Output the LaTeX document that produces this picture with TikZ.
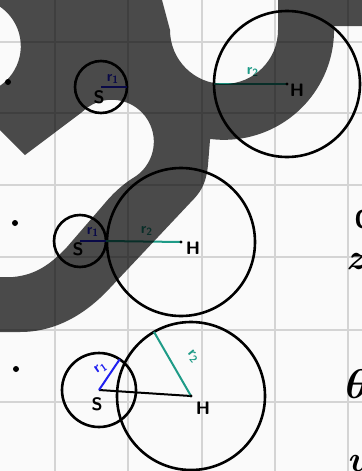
\documentclass[tikz,border=0pt]{standalone}
\usepackage{amsmath}
\usepackage{amsfonts}
\usepackage{tikz}
\usetikzlibrary{calc}
\usetikzlibrary{positioning}

\definecolor{rblue}{RGB}{32,32,240}
\definecolor{rteal}{RGB}{30,155,135}
\definecolor{gridgray}{RGB}{212,212,212}
\definecolor{paper}{RGB}{250,250,250}

\begin{document}
\begin{tikzpicture}[x=0.5pt, y=0.5pt, >=latex,
  gridline/.style={gridgray, line width=1pt},
  orbit/.style={black, line width=1.3pt},
  rone/.style={rblue, line width=1pt},
  rtwo/.style={rteal, line width=1pt},
  dot/.style={circle, fill=black, inner sep=0pt, minimum size=3pt},
  tinydot/.style={circle, fill=black, inner sep=0pt, minimum size=1.6pt},
  hand/.style={inner sep=0pt, font=\sffamily\bfseries\fontsize{9}{9}\selectfont},
  rlbl/.style={inner sep=0pt, font=\sffamily\bfseries\fontsize{7.5}{7.5}\selectfont},
  cutnote/.style={inner sep=0pt, anchor=west}]
  \path[use as bounding box] (0, 0) rectangle (362, -471);
  \clip (0, 0) rectangle (362, -471);
  \fill[paper] (0, 0) rectangle (362, -471);

%%%%%%%%%%%% Grid paper
  \foreach \i in {55, 128.3, 201.7, 275, 348.3} {
    \draw[gridline] (\i, 0) -- (\i, -471);
  }
  \foreach \j in {41.7, 113.3, 185, 256.7, 330, 401.7} {
    \draw[gridline] (0, -\j) -- (362, -\j);
  }

%%%%%%%%%%%% First case
  \node[dot] (dotA) at (8, -82) {};
  \coordinate (S1) at (101, -87);
  \coordinate (M1) at (287, -84);
  \coordinate (E1) at ($(S1)+(26, 0)$);
  \coordinate (F1) at ($(M1)+(-73, 0)$);
  \draw[orbit] (S1) circle[radius=13pt];
  \draw[orbit] (M1) circle[radius=36.5pt];
  \draw[rone] (S1) -- (E1);
  \draw[rtwo] (F1) -- (M1);
  \node[tinydot] (mA) at (M1) {};
  \node[rlbl, rblue] (rA) at (113, -79) {r\textsubscript{1}};
  \node[hand] (sA) at (99, -97) {S};
  \node[rlbl, rteal] (qA) at (253, -72) {r\textsubscript{2}};
  \node[hand] (hA) at (297, -90) {H};

%%%%%%%%%%%% Second case
  \node[dot] (dotB) at (15, -223) {};
  \coordinate (S2) at (80, -241);
  \coordinate (M2) at (181, -242);
  \coordinate (E2) at ($(S2)+(26, 0)$);
  \draw[orbit] (S2) circle[radius=13pt];
  \draw[orbit] (M2) circle[radius=37pt];
  \draw[rtwo] (E2) -- (M2);
  \draw[rone] (S2) -- (E2);
  \node[tinydot] (mB) at (M2) {};
  \node[rlbl, rblue] (rB) at (93, -232) {r\textsubscript{1}};
  \node[hand] (sB) at (78, -249) {S};
  \node[rlbl, rteal] (qB) at (147, -231) {r\textsubscript{2}};
  \node[hand] (hB) at (193, -248) {H};

%%%%%%%%%%%% Third case
  \node[dot] (dotC) at (16, -369) {};
  \coordinate (S3) at (99, -390);
  \coordinate (M3) at (191, -396);
  \coordinate (E3) at ($(S3)+(56:37)$);
  \coordinate (F3) at ($(M3)+(120:74)$);
  \draw[orbit] (S3) circle[radius=18.5pt];
  \draw[orbit] (M3) circle[radius=37pt];
  \draw[black, line width=1pt] (S3) -- (M3);
  \draw[rone] (S3) -- (E3);
  \draw[rtwo] (F3) -- (M3);
  \node[tinydot] (mC) at (M3) {};
  \node[rlbl, rblue, rotate=35] (rC) at (101, -368) {r\textsubscript{1}};
  \node[hand] (sC) at (97, -404) {S};
  \node[rlbl, rteal, rotate=-50] (qC) at (193, -357) {r\textsubscript{2}};
  \node[hand] (hC) at (203, -408) {H};

%%%%%%%%%%%% Notes cut by the edge
  \node[cutnote, font=\sffamily\bfseries\fontsize{13}{13}\selectfont] (eA) at (354, -219) {O};
  \node[cutnote, font=\bfseries\itshape\fontsize{18}{18}\selectfont] (eB) at (346, -262) {z};
  \node[cutnote, font=\fontsize{22}{22}\selectfont] (eC) at (345, -384) {$\boldsymbol{\theta}$};
  \node[cutnote, anchor=north west, font=\bfseries\itshape\fontsize{18}{18}\selectfont] (eD) at (347, -455) {u};

%%%%%%%%%%%% Big dark figure over the sheet
  \fill[black, fill opacity=0.7]
    (-10, 15) -- (158, 15) -- (170, -30)
    arc[start angle=180, end angle=360, radius=27pt]
    -- (278, 15) -- (372, 15) -- (372, -26) -- (334, -26)
    arc[start angle=2, end angle=-97.3, radius=55pt]
    -- (208, -165) .. controls (206, -185) and (200, -193) .. (190, -203)
    -- (110, -288) .. controls (85, -315) and (55, -332) .. (20, -332)
    -- (-10, -332) -- (-10, -277) -- (13, -277)
    .. controls (35, -275) and (50, -265) .. (67, -247)
    -- (105, -203) .. controls (115, -191) and (125, -183) .. (133, -178)
    arc[start angle=-59.7, end angle=135, radius=21pt]
    -- (25, -155) -- (-10, -120) -- (-10, -91)
    arc[start angle=-69, end angle=69, radius=24pt]
    -- cycle;
\end{tikzpicture}
\end{document}
